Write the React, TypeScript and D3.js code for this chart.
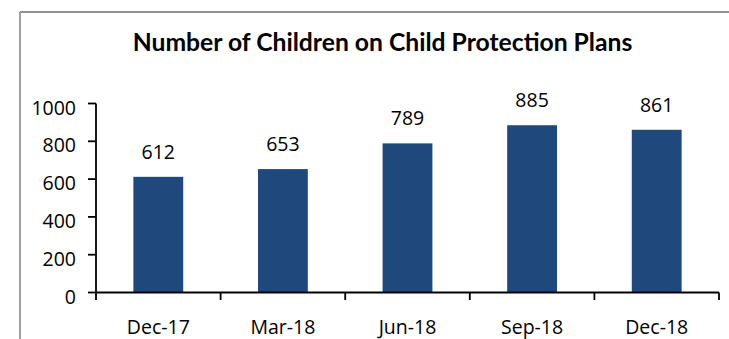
import React from "react";
import * as d3 from "d3";

const categories = ["Dec-17", "Mar-18", "Jun-18", "Sep-18", "Dec-18"];
const values = [612, 653, 789, 885, 861];
const yTicks = [0, 200, 400, 600, 800, 1000];
const title = "Number of Children on Child Protection Plans";

const W = 729;
const H = 339;
const left = 96;
const right = 719;
const y0 = 292.5;
const y1 = 103.5;
const font = "'Open Sans', sans-serif";

export default function App() {
  const x = d3
    .scaleBand<string>()
    .domain(categories)
    .range([left, right])
    .paddingInner(0.6)
    .paddingOuter(0.3);
  const y = d3.scaleLinear().domain([0, 1000]).range([y0, y1]);
  const step = x.step();
  const bounds = d3.range(categories.length + 1).map((i) => left + i * step);

  return (
    <svg
      width={W}
      height={H}
      style={{ position: "absolute", left: 0, top: 0, background: "#fff" }}
    >
      <rect x={0} y={0} width={W} height={H} fill="#fff" />
      {/* frame */}
      <line x1={20} y1={12} x2={W} y2={12} stroke="#8f8f8f" strokeWidth={2} />
      <line x1={20} y1={12} x2={20} y2={H} stroke="#a0a0a0" strokeWidth={2} />

      {/* title */}
      <text
        x={382.5}
        y={51}
        textAnchor="middle"
        fontFamily="Lato, sans-serif"
        fontWeight="bold"
        fontSize={24.7}
        fill="#000"
      >
        {title}
      </text>

      {/* bars */}
      {categories.map((c, i) => (
        <rect
          key={c}
          x={x(c)}
          y={y(values[i])}
          width={x.bandwidth()}
          height={y0 - y(values[i])}
          fill="#1F497D"
        />
      ))}

      {/* data labels */}
      {categories.map((c, i) => (
        <text
          key={"l" + c}
          x={(x(c) as number) + x.bandwidth() / 2}
          y={y(values[i]) - 18}
          textAnchor="middle"
          fontFamily={font}
          fontSize={19.5}
          fill="#000"
        >
          {values[i]}
        </text>
      ))}

      {/* y axis */}
      <line x1={left} y1={y(1000)} x2={left} y2={y0} stroke="#000" strokeWidth={1.8} />
      {yTicks.map((t) => (
        <g key={"yt" + t}>
          <line x1={88} y1={y(t)} x2={left} y2={y(t)} stroke="#000" strokeWidth={1.8} />
          <text
            x={76}
            y={y(t) + 11}
            textAnchor="end"
            fontFamily={font}
            fontSize={19.5}
            fill="#000"
          >
            {t}
          </text>
        </g>
      ))}

      {/* x axis */}
      <line x1={left} y1={y0} x2={right} y2={y0} stroke="#000" strokeWidth={1.8} />
      {bounds.map((b, i) => (
        <line key={"xt" + i} x1={b} y1={y0} x2={b} y2={300} stroke="#000" strokeWidth={1.8} />
      ))}
      {categories.map((c) => (
        <text
          key={"xl" + c}
          x={(x(c) as number) + x.bandwidth() / 2}
          y={334}
          textAnchor="middle"
          fontFamily={font}
          fontSize={19.5}
          fill="#000"
        >
          {c}
        </text>
      ))}
    </svg>
  );
}
